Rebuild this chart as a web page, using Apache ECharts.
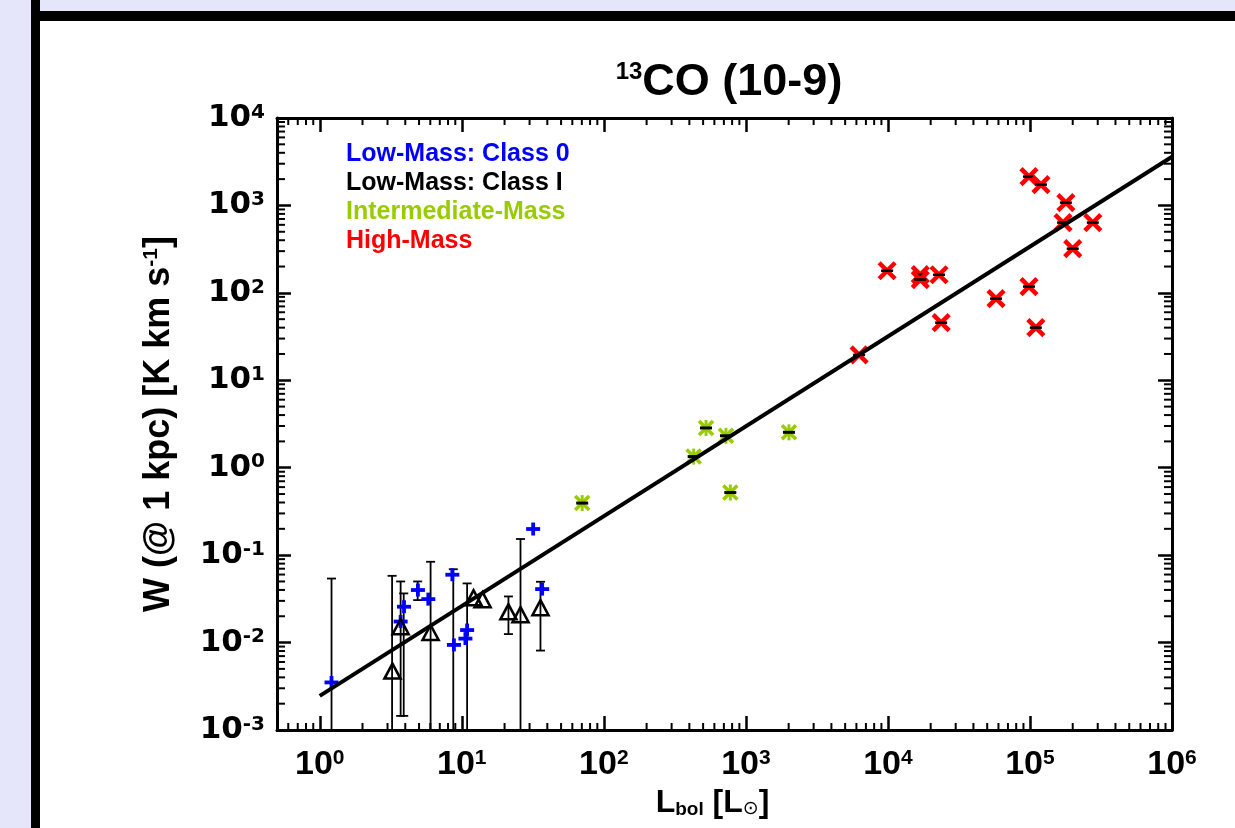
<!DOCTYPE html>
<html>
<head>
<meta charset="utf-8">
<title>13CO (10-9)</title>
<script src="https://cdn.jsdelivr.net/npm/echarts@6.0.0/dist/echarts.min.js"></script>
<style>
  html, body { margin: 0; padding: 0; background: #fff; }
  #chart { width: 1235px; height: 828px; }
</style>
</head>
<body>
<div id="chart"></div>
<script>
// ---- data ----
// Low-Mass: Class 0 (blue plus)
var class0L = [1.21, 3.71, 3.92, 4.91, 5.81, 8.58, 8.80, 10.9, 10.6, 31.8, 36.8];
var class0W = [0.0035, 0.0174, 0.0257, 0.0399, 0.0314, 0.0597, 0.0094, 0.0139, 0.0111, 0.199, 0.0409];

// Low-Mass: Class I (open triangles)
var class1L = [3.25, 3.71, 6.03, 12.1, 14.0, 21.3, 25.9, 35.8];
var class1W = [0.0046, 0.0148, 0.0127, 0.0317, 0.0301, 0.0219, 0.0203, 0.0244];

// Intermediate-Mass (green)
var interL = [70.4, 429, 524, 724, 777, 2010];
var interW = [0.394, 1.34, 2.85, 2.32, 0.52, 2.54];

// High-Mass (red x)
var highL = [6270, 9870, 16900, 16900, 22900, 23700, 57700, 98400, 119500, 98400, 110000, 179000, 171000, 200000, 277000];
var highW = [19.5, 179, 162, 142, 161, 45.6, 85.9, 2136, 1730, 118, 40, 1076, 636, 320, 636];

// vertical error bars of the low-mass sources
var errL    = [1.21, 3.23, 3.71, 3.90, 4.89, 6.03, 8.71, 10.9, 21.3, 25.9, 35.8];
var errLow  = [1e-4, 1e-4, 0.00145, 0.00145, 0.0306, 1e-4, 1e-4, 1e-4, 0.0125, 1e-4, 0.0081];
var errHigh = [0.054, 0.058, 0.050, 0.0365, 0.050, 0.084, 0.069, 0.0475, 0.0337, 0.153, 0.0496];

// power-law fit
var fitL = [1, 1e6];
var fitW = [0.00246, 3600];

var legendNames = ['Low-Mass: Class 0', 'Low-Mass: Class I', 'Intermediate-Mass', 'High-Mass'];
var legendColors = ['#0000ff', '#000000', '#99cc00', '#ff0000'];

var X_MIN = 0.5, X_MAX = 1e6, Y_MIN = 1e-3, Y_MAX = 1e4;

var WIDE = '"DejaVu Sans", "Liberation Sans", sans-serif';
var ARIAL = '"Liberation Sans", Arial, sans-serif';

// minor ticks 2..9 in every decade
var xMinor = [], yMinor = [];
for (var k = -1; k <= 5; k++) {
    for (var m = 2; m <= 9; m++) {
        var v = m * Math.pow(10, k);
        if (v > X_MIN && v < X_MAX) xMinor.push(v);
    }
}
for (var k2 = -3; k2 <= 3; k2++) {
    for (var m2 = 2; m2 <= 9; m2++) yMinor.push(m2 * Math.pow(10, k2));
}

function pow10Label(val) {
    var n = Math.log10(val);
    var r = Math.round(n);
    if (Math.abs(n - r) > 1e-6) return '';
    return '{b|10}{e|' + r + '}';
}

function line(x1, y1, x2, y2, color, w) {
    return { type: 'line', shape: { x1: x1, y1: y1, x2: x2, y2: y2 }, style: { stroke: color, lineWidth: w } };
}

function markerSeries(name, L, W, draw) {
    return {
        type: 'custom',
        name: name,
        coordinateSystem: 'cartesian2d',
        data: L.map(function (x, i) { return [x, W[i]]; }),
        z: 5,
        renderItem: function (params, api) {
            var p = api.coord([api.value(0), api.value(1)]);
            return { type: 'group', x: p[0], y: p[1], children: draw() };
        }
    };
}

function drawPlus() {
    return [line(-7, 0, 7, 0, '#0000ff', 3.8), line(0, -6.5, 0, 6.5, '#0000ff', 3.8)];
}
function drawTriangle() {
    return [{ type: 'polygon', shape: { points: [[0, -8.5], [8, 6.5], [-8, 6.5]] },
              style: { fill: 'none', stroke: '#000', lineWidth: 2.6 } }];
}
function drawGreen() {
    var c = '#99cc00';
    return [line(-7, -7, 7, 7, c, 3.6), line(-7, 7, 7, -7, c, 3.6), line(0, -8, 0, 8, c, 3),
            line(-6, 0, 6, 0, '#000', 3)];
}
function drawRed() {
    var c = '#ff0000';
    return [line(-8, -8, 8, 8, c, 4.5), line(-8, 8, 8, -8, c, 4.5), line(-6, 0, 6, 0, '#000', 2.5)];
}

var chart = echarts.init(document.getElementById('chart'));

var axisLineStyle = { lineStyle: { color: '#000', width: 3 } };
var majorTick = { show: true, inside: true, length: 14, lineStyle: { color: '#000', width: 2.5 } };

chart.setOption({
    animation: false,
    backgroundColor: '#ffffff',
    graphic: [
        { type: 'rect', shape: { x: 0, y: 0, width: 1235, height: 11 }, style: { fill: '#e6e6fa' } },
        { type: 'rect', shape: { x: 0, y: 0, width: 31, height: 828 }, style: { fill: '#e6e6fa' } },
        { type: 'rect', shape: { x: 31, y: 0, width: 9, height: 828 }, style: { fill: '#000' } },
        { type: 'rect', shape: { x: 31, y: 11, width: 1204, height: 10 }, style: { fill: '#000' } }
    ],
    title: {
        text: '{s|13}{m|CO (10-9)}',
        left: 724,
        top: 55,
        textAlign: 'center',
        textStyle: {
            rich: {
                s: { fontFamily: ARIAL, fontWeight: 'bold', fontSize: 24, color: '#000', verticalAlign: 'top' },
                m: { fontFamily: ARIAL, fontWeight: 'bold', fontSize: 45, color: '#000' }
            }
        }
    },
    legend: {
        orient: 'vertical',
        left: 336,
        top: 137,
        itemWidth: 0,
        itemHeight: 0,
        itemGap: 4,
        selectedMode: false,
        textStyle: { fontFamily: ARIAL, fontWeight: 'bold', fontSize: 25 },
        data: legendNames.map(function (n, i) {
            return { name: n, icon: 'none', textStyle: { color: legendColors[i] } };
        })
    },
    grid: { left: 277, right: 63, top: 118, bottom: 98 },
    xAxis: [{
        type: 'log', logBase: 10, min: X_MIN, max: X_MAX,
        position: 'bottom',
        axisLine: axisLineStyle, axisTick: majorTick, splitLine: { show: false },
        axisLabel: {
            margin: 18, formatter: pow10Label, hideOverlap: false, showMinLabel: true, showMaxLabel: true,
            rich: {
                b: { fontFamily: ARIAL, fontWeight: 'bold', fontSize: 34, color: '#000' },
                e: { fontFamily: ARIAL, fontWeight: 'bold', fontSize: 21, color: '#000', verticalAlign: 'top' }
            }
        },
        name: '{m|L}{s|bol}{m| [L}{o|\u2299}{m|]}',
        nameLocation: 'middle',
        nameGap: 53,
        nameTextStyle: {
            padding: [0, 24, 0, 0],
            rich: {
                m: { fontFamily: ARIAL, fontWeight: 'bold', fontSize: 32, color: '#000' },
                s: { fontFamily: ARIAL, fontWeight: 'bold', fontSize: 19, color: '#000', verticalAlign: 'bottom' },
                o: { fontFamily: WIDE, fontSize: 19, color: '#000', verticalAlign: 'bottom' }
            }
        }
    }, {
        type: 'log', logBase: 10, min: X_MIN, max: X_MAX,
        position: 'top',
        axisLine: axisLineStyle, axisTick: majorTick, splitLine: { show: false },
        axisLabel: { show: false }
    }],
    yAxis: [{
        type: 'log', logBase: 10, min: Y_MIN, max: Y_MAX,
        position: 'left',
        axisLine: axisLineStyle, axisTick: majorTick, splitLine: { show: false },
        axisLabel: {
            margin: 12, formatter: pow10Label,
            rich: {
                b: { fontFamily: WIDE, fontWeight: 'bold', fontSize: 31, color: '#000' },
                e: { fontFamily: WIDE, fontWeight: 'bold', fontSize: 20, color: '#000', verticalAlign: 'top' }
            }
        },
        name: '{m|W (@ 1 kpc) [K km s}{s|-1}{m|]}',
        nameLocation: 'middle',
        nameRotate: 90,
        nameGap: 100,
        nameTextStyle: {
            rich: {
                m: { fontFamily: ARIAL, fontWeight: 'bold', fontSize: 36, color: '#000' },
                s: { fontFamily: ARIAL, fontWeight: 'bold', fontSize: 21, color: '#000', verticalAlign: 'top' }
            }
        }
    }, {
        type: 'log', logBase: 10, min: Y_MIN, max: Y_MAX,
        position: 'right',
        axisLine: axisLineStyle, axisTick: majorTick, splitLine: { show: false },
        axisLabel: { show: false }
    }],
    series: [
        {
            type: 'custom', name: 'xMinor', silent: true, z: 3,
            data: xMinor.map(function (v) { return [v, 1]; }),
            renderItem: function (params, api) {
                var v = api.value(0);
                var b = api.coord([v, Y_MIN]), t = api.coord([v, Y_MAX]);
                return { type: 'group', children: [
                    line(b[0], b[1], b[0], b[1] - 7, '#000', 2),
                    line(t[0], t[1], t[0], t[1] + 7, '#000', 2)
                ] };
            }
        },
        {
            type: 'custom', name: 'yMinor', silent: true, z: 3,
            data: yMinor.map(function (v) { return [1, v]; }),
            renderItem: function (params, api) {
                var v = api.value(1);
                var l = api.coord([X_MIN, v]), r = api.coord([X_MAX, v]);
                return { type: 'group', children: [
                    line(l[0], l[1], l[0] + 8, l[1], '#000', 2),
                    line(r[0], r[1], r[0] - 8, r[1], '#000', 2)
                ] };
            }
        },
        {
            type: 'custom', name: 'errors', clip: true, z: 4,
            data: errL.map(function (x, i) { return [x, errLow[i], errHigh[i]]; }),
            renderItem: function (params, api) {
                var lo = api.coord([api.value(0), api.value(1)]);
                var hi = api.coord([api.value(0), api.value(2)]);
                return { type: 'group', children: [
                    line(lo[0], lo[1], hi[0], hi[1], '#000', 1.8),
                    line(hi[0] - 4.5, hi[1], hi[0] + 4.5, hi[1], '#000', 1.8),
                    line(lo[0] - 4.5, lo[1], lo[0] + 4.5, lo[1], '#000', 1.8)
                ] };
            }
        },
        {
            type: 'line', name: 'fit', z: 6,
            data: fitL.map(function (x, i) { return [x, fitW[i]]; }),
            showSymbol: false, symbol: 'none',
            lineStyle: { color: '#000', width: 4 }
        },
        markerSeries('Low-Mass: Class 0', class0L, class0W, drawPlus),
        markerSeries('Low-Mass: Class I', class1L, class1W, drawTriangle),
        markerSeries('Intermediate-Mass', interL, interW, drawGreen),
        markerSeries('High-Mass', highL, highW, drawRed)
    ]
});
</script>
</body>
</html>
